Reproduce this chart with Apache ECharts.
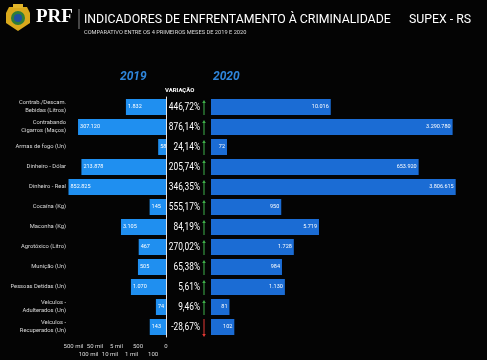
<!DOCTYPE html>
<html>
<head>
<meta charset="utf-8">
<script src="https://cdn.jsdelivr.net/npm/echarts@6/dist/echarts.min.js"></script>
<style>html,body{margin:0;padding:0;background:#040404;}#c{width:487px;height:360px;}</style>
</head>
<body>
<div id="c"></div>
<script>
const categories = [
  'Contrab./Descam.\nBebidas (Litros)',
  'Contrabando\nCigarros (Maços)',
  'Armas de fogo (Un)',
  'Dinheiro - Dólar',
  'Dinheiro - Real',
  'Cocaína (Kg)',
  'Maconha (Kg)',
  'Agrotóxico (Litro)',
  'Munição (Un)',
  'Pessoas Detidas (Un)',
  'Veículos -\nAdulterados (Un)',
  'Veículos -\nRecuperados (Un)'
];
const values2019 = [1832, 307120, 58, 213878, 852825, 145, 3105, 467, 505, 1070, 74, 143];
const values2020 = [10016, 3290780, 72, 653920, 3806615, 950, 5719, 1728, 984, 1130, 81, 102];
const variation = [446.72, 876.14, 24.14, 205.74, 346.35, 555.17, 84.19, 270.02, 65.38, 5.61, 9.46, -28.67];
const tickValues = [25.12, 100, 500, 1000, 5000, 10000, 50000, 100000, 500000, 1000000];
const tickLabels = ['0', '100', '500', '1 mil', '5 mil', '10 mil', '50 mil', '100 mil', '500 mil', '1 mi'];

function fmtNum(n) {
  return String(n).replace(/\B(?=(\d{3})+(?!\d))/g, '.');
}
function fmtPct(v) {
  return v.toFixed(2).replace('.', ',') + '%';
}
const FONT = 'Roboto, sans-serif';

const chart = echarts.init(document.getElementById('c'), null, {renderer: 'canvas'});
const option = {
  backgroundColor: '#040404',
  animation: false,
  graphic: [
    {type: 'group', left: 6, top: 4, children: [
      {type: 'polygon', shape: {points: [[3,3],[21,3],[24,9],[24,19],[12,27],[0,19],[0,9]]}, style: {fill: '#d9a91c'}},
      {type: 'circle', shape: {cx: 12, cy: 14, r: 7}, style: {fill: '#2f7d3a'}},
      {type: 'circle', shape: {cx: 12, cy: 14, r: 4}, style: {fill: '#1f4fa0'}},
      {type: 'rect', shape: {x: 7, y: 0, width: 10, height: 4}, style: {fill: '#e2b52a'}}
    ]},
    {type: 'text', left: 36, top: 8, style: {text: 'PRF', fill: '#ffffff', font: 'bold 19px "Liberation Serif", "DejaVu Serif", serif'}},
    {type: 'line', shape: {x1: 79, y1: 9, x2: 79, y2: 29}, style: {stroke: '#888', lineWidth: 1}}
  ],
  title: [
    {text: 'INDICADORES DE ENFRENTAMENTO À CRIMINALIDADE', left: 84, top: 14, padding: 0,
     textStyle: {color: '#ffffff', fontSize: 12.3, fontWeight: 'normal', fontFamily: FONT}},
    {text: 'SUPEX - RS', left: 409, top: 14, padding: 0,
     textStyle: {color: '#ffffff', fontSize: 12.3, fontWeight: 'normal', fontFamily: FONT}},
    {text: 'COMPARATIVO ENTRE OS 4 PRIMEIROS MESES DE 2019 E 2020', left: 84, top: 30, padding: 0,
     textStyle: {color: '#dddddd', fontSize: 5.7, fontWeight: 'normal', fontFamily: FONT}},
    {text: '2019', left: 120, top: 71, padding: 0,
     textStyle: {color: '#2f86dc', fontSize: 12, fontWeight: 'bold', fontStyle: 'italic', fontFamily: FONT}},
    {text: '2020', left: 213, top: 71, padding: 0,
     textStyle: {color: '#2f86dc', fontSize: 12, fontWeight: 'bold', fontStyle: 'italic', fontFamily: FONT}},
    {text: 'VARIAÇÃO', left: 165, top: 87, padding: 0,
     textStyle: {color: '#ffffff', fontSize: 6, fontWeight: 'bold', fontFamily: FONT}}
  ],
  grid: [
    {left: 67, width: 99, top: 97, height: 240},
    {left: 211, width: 265, top: 97, height: 240}
  ],
  xAxis: [
    {gridIndex: 0, type: 'log', logBase: 10, inverse: true, min: 25.12, max: 1000000,
     axisLine: {show: false}, axisTick: {show: false}, splitLine: {show: false},
     axisLabel: {
       customValues: tickValues, hideOverlap: false,
       color: '#dddddd', fontSize: 6, fontFamily: FONT, margin: 5, lineHeight: 8,
       formatter: function (val) {
         let idx = 0, best = Infinity;
         tickValues.forEach(function (t, i) {
           const d = Math.abs(Math.log10(val) - Math.log10(t));
           if (d < best) { best = d; idx = i; }
         });
         return (idx % 2 === 1 ? '\n' : '') + tickLabels[idx];
       }
     }},
    {gridIndex: 1, type: 'log', logBase: 10, min: 33.65, max: 10000000, show: false, splitLine: {show: false}}
  ],
  yAxis: [
    {gridIndex: 0, type: 'category', data: categories, inverse: true, position: 'left',
     axisLine: {show: false}, axisTick: {show: false},
     axisLabel: {color: '#dddddd', fontSize: 5.8, fontFamily: FONT, margin: 1, lineHeight: 8}},
    {gridIndex: 0, type: 'category', data: categories, inverse: true, position: 'right',
     axisLine: {show: true, lineStyle: {color: '#e8e8e8', width: 1}}, axisTick: {show: false},
     axisLabel: {show: false}},
    {gridIndex: 1, type: 'category', data: categories, inverse: true, position: 'left',
     axisLine: {show: false}, axisTick: {show: false}, axisLabel: {show: false}}
  ],
  series: [
    {type: 'bar', xAxisIndex: 0, yAxisIndex: 0, data: values2019, barWidth: 16,
     itemStyle: {color: '#1f8ff0'},
     label: {show: true, position: 'insideLeft', distance: 2, color: '#ffffff', fontSize: 5.5, fontFamily: FONT,
             formatter: function (p) { return fmtNum(p.value); }}},
    {type: 'bar', xAxisIndex: 1, yAxisIndex: 2, data: values2020, barWidth: 16,
     itemStyle: {color: '#1b6cd4'},
     label: {show: true, position: 'insideRight', distance: 2, color: '#ffffff', fontSize: 5.5, fontFamily: FONT,
             formatter: function (p) { return fmtNum(p.value); }}},
    {type: 'custom', xAxisIndex: 1, yAxisIndex: 2, z: 10,
     data: values2020.map(function (v, i) { return [v, i, variation[i]]; }),
     encode: {x: 0, y: 1},
     renderItem: function (params, api) {
       const y = api.coord([api.value(0), api.value(1)])[1];
       const left = params.coordSys.x;
       const v = api.value(2);
       const up = v >= 0;
       const col = up ? '#3fb24a' : '#e53935';
       const ax = left - 7;
       const y0 = up ? y + 8 : y - 8;
       const y1 = up ? y - 7 : y + 10;
       const hd = up ? 3 : -3;
       return {type: 'group', children: [
         {type: 'text', x: left - 11, y: y + 0.5, scaleX: 0.76,
          style: {text: fmtPct(v), fill: '#ffffff', font: '11px Roboto', align: 'right', verticalAlign: 'middle'}},
         {type: 'line', shape: {x1: ax, y1: y0, x2: ax, y2: y1 + hd}, style: {stroke: col, lineWidth: 1}},
         {type: 'polygon', shape: {points: [[ax - 1.8, y1 + hd], [ax + 1.8, y1 + hd], [ax, y1]]}, style: {fill: col}}
       ]};
     }}
  ]
};
chart.setOption(option);
</script>
</body>
</html>
